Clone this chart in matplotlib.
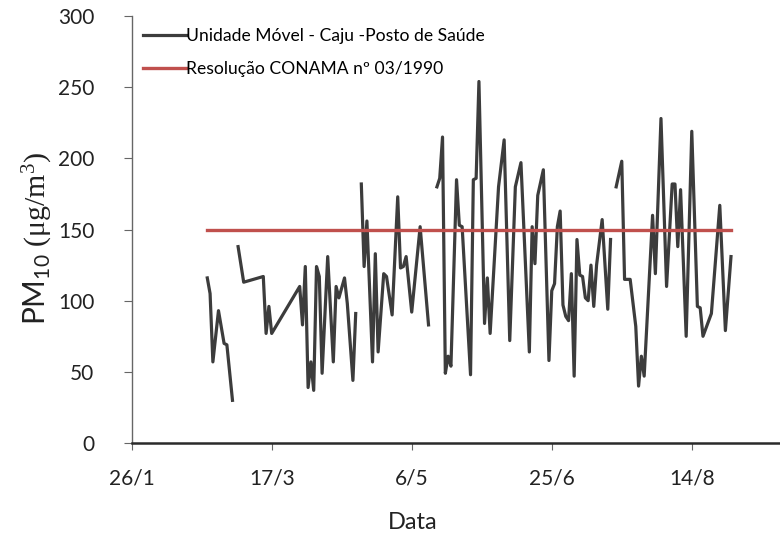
import matplotlib
matplotlib.use("Agg")
import matplotlib.pyplot as plt
import numpy as np
import pandas as pd

# PM10 diário - Unidade Móvel Caju (Posto de Saúde), 2013
# dia do ano; NaN = sem medição
dia_do_ano = [53, 54, 55, 57, 59, 60, 62, 63,
              64, 66, 73, 74, 75, 76, 86, 87, 88, 89, 90, 91, 92, 93, 94, 96,
              98, 99, 100, 102, 103, 105, 106, 107,
              108, 109, 110, 112, 113, 114, 116, 117, 119, 121, 122, 123, 124,
              126, 129, 132, 133,
              135, 136, 137, 138, 139, 140, 142, 143, 144, 147, 148, 149, 150,
              152, 153, 154, 157, 159, 161, 163, 165, 168, 169, 170, 171, 173,
              175, 176, 177, 178, 179, 180, 181, 182, 183, 184, 185, 186, 187,
              188, 189, 190, 191, 192, 194, 196, 197, 198,
              199, 201, 202, 204, 206, 207, 208, 209, 212, 213, 215, 217, 219,
              220, 221, 222, 224, 226, 228, 229, 230, 233, 236, 238, 240]
pm10 = [116, 105, 57, 93, 70, 69, 30, np.nan,
        138, 113, 117, 77, 96, 77, 110, 83, 124, 39, 57, 37, 124, 117, 49, 131,
        57, 110, 102, 116, 98, 44, 91, np.nan,
        182, 124, 156, 57, 133, 64, 119, 117, 90, 173, 123, 124, 131,
        92, 152, 83, np.nan,
        180, 186, 215, 49, 61, 54, 185, 153, 152, 48, 185, 186, 254,
        84, 116, 77, 180, 213, 72, 180, 197, 64, 152, 126, 174, 192,
        58, 107, 112, 152, 163, 97, 89, 86, 119, 47, 143, 118, 117,
        102, 100, 125, 96, 125, 157, 94, 143, np.nan,
        180, 198, 115, 115, 82, 40, 61, 47, 160, 119, 228, 110, 182,
        182, 138, 178, 75, 219, 96, 95, 75, 91, 167, 79, 131]

# padrão diário CONAMA 03/1990
conama_dias = [53, 240]
conama_valor = [150, 150]

tick_datas = ["2013-01-26", "2013-03-17", "2013-05-06", "2013-06-25", "2013-08-14"]
tick_labels = ["26/1", "17/3", "6/5", "25/6", "14/8"]

serie_label = "Unidade Móvel - Caju -Posto de Saúde"
conama_label = "Resolução CONAMA nº 03/1990"


def para_data(dias):
    return pd.Timestamp("2013-01-01") + pd.to_timedelta(np.array(dias) - 1, unit="D")


plt.rcParams['font.family'] = ['Lato', 'DejaVu Sans']
plt.rcParams['mathtext.fontset'] = 'custom'
plt.rcParams['mathtext.rm'] = 'Liberation Serif'
plt.rcParams['mathtext.sf'] = 'Lato'

fig = plt.figure(figsize=(7.8, 5.46), dpi=100)
ax = fig.add_axes([0.1688, 0.1886, 0.8312, 0.782])

ax.plot(para_data(dia_do_ano), pm10, color="#3c3c3c", lw=2.3,
        solid_joinstyle="round", label=serie_label)
ax.plot(para_data(conama_dias), conama_valor, color="#c0504d", lw=2.4,
        solid_capstyle="projecting", label=conama_label)

ax.set_xlim(pd.Timestamp("2013-01-26"), pd.Timestamp("2013-01-26") + pd.Timedelta(days=231.5))
ax.set_ylim(0, 300)
ax.set_yticks(range(0, 301, 50))
ax.set_xticks(pd.to_datetime(tick_datas))
ax.set_xticklabels(tick_labels)

for s in ["top", "right"]:
    ax.spines[s].set_visible(False)
ax.spines["bottom"].set_color("#2a2a2a")
ax.spines["bottom"].set_linewidth(1.8)
ax.spines["left"].set_color("#666666")
ax.spines["left"].set_linewidth(1.0)

ax.tick_params(axis="x", direction="out", length=5, width=0.8, color="#666666",
               pad=13, labelsize=15, labelcolor="#222222")
ax.tick_params(axis="y", direction="out", length=6, width=0.8, color="#666666",
               pad=21, labelsize=15, labelcolor="#222222")

ax.set_xlabel("Data", fontsize=17, color="#222222", va="top")
ax.xaxis.set_label_coords(0.434, -0.162)
ax.set_ylabel(r"$\mathsf{PM_{10}}$ $\mathrm{(\mu g/m^3)}$", fontsize=21.5,
              color="#222222", va="center")
ax.yaxis.set_label_coords(-0.145, 0.479)

ax.legend(loc="upper left", bbox_to_anchor=(0.0174, 0.971), frameon=False,
          fontsize=12.6, handlelength=2.45, handletextpad=0.0,
          labelspacing=0.95, borderpad=0, borderaxespad=0)

plt.savefig("out.png", dpi=100)
